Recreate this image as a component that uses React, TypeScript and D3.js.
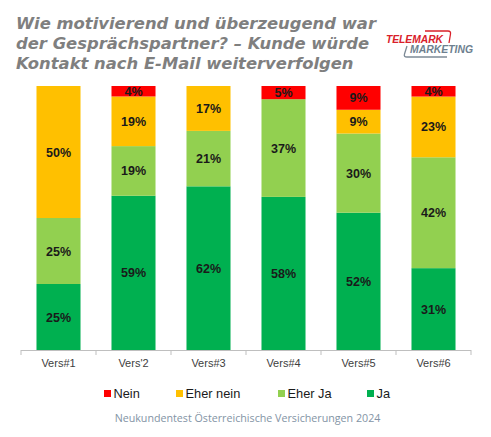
import React from "react";
import * as d3 from "d3";

const categories = ["Vers#1", "Vers'2", "Vers#3", "Vers#4", "Vers#5", "Vers#6"];
const seriesNames = ["Ja", "Eher Ja", "Eher nein", "Nein"];
const ja = [25, 59, 62, 58, 52, 31];
const eherJa = [25, 19, 21, 37, 30, 42];
const eherNein = [50, 19, 17, 0, 9, 23];
const nein = [0, 4, 0, 5, 9, 4];
const colors = ["#00B050", "#92D050", "#FFC000", "#FF0000"];
const legendOrder = ["Nein", "Eher nein", "Eher Ja", "Ja"];
const titleLines = [
  "Wie motivierend und überzeugend war",
  "der Gesprächspartner? – Kunde würde",
  "Kontakt nach E-Mail weiterverfolgen",
];
const footer = "Neukundentest Österreichische Versicherungen 2024";

export default function App() {
  const W = 491, H = 437;
  const x = d3.scaleBand<string>().domain(categories).range([21, 471]).paddingInner(0.413).paddingOuter(0.2065);
  const y = d3.scaleLinear().domain([0, 1]).range([350, 86]);
  const rows = categories.map((c, i) => {
    const vals = [ja[i], eherJa[i], eherNein[i], nein[i]];
    const total = d3.sum(vals);
    const r: any = { cat: c };
    seriesNames.forEach((s, k) => (r[s] = vals[k] / total));
    r.raw = vals;
    return r;
  });
  const stack = d3.stack<any>().keys(seriesNames);
  const series = stack(rows);
  const color = d3.scaleOrdinal<string, string>().domain(seriesNames).range(colors);
  const ticks = [...categories.map((c) => (x(c) as number) - (x.step() - x.bandwidth()) / 2), 471];
  const legendX = [104, 176, 278, 367];

  return (
    <div style={{ position: "absolute", left: 0, top: 0 }}>
      <svg width={W} height={H} style={{ display: "block", background: "#fff" }}>
        {titleLines.map((t, i) => (
          <text key={i} x={16} y={28.5 + i * 20} fontFamily="DejaVu Sans, Verdana, sans-serif" fontWeight="bold" fontStyle="italic" fontSize={16.4} fill="#7f7f7f">
            {t}
          </text>
        ))}
        {/* logo */}
        <g>
          <path d="M425,31 L448,31 Q451,31 450.5,34 L449,43" fill="none" stroke="#d9202a" strokeWidth={1.3} />
          <path d="M407,46 L404.5,54 Q403.5,57 407,57 L447,57" fill="none" stroke="#7d8a96" strokeWidth={1.3} />
          <text x={386} y={43} fontFamily="Liberation Sans, Arial, sans-serif" fontWeight="bold" fontStyle="italic" fontSize={10.5} fill="#d9202a" textLength={57} lengthAdjust="spacingAndGlyphs">TELEMARK</text>
          <text x={410} y={53} fontFamily="Liberation Sans, Arial, sans-serif" fontWeight="bold" fontStyle="italic" fontSize={10.5} fill="#6e7f8f" textLength={63} lengthAdjust="spacingAndGlyphs">MARKETING</text>
        </g>
        {series.map((s, k) => (
          <g key={s.key} fill={color(s.key)}>
            {s.map((d, i) => {
              const h = y(d[0]) - y(d[1]);
              if (h <= 0) return null;
              return <rect key={i} x={x(categories[i])} y={y(d[1])} width={x.bandwidth()} height={h} />;
            })}
          </g>
        ))}
        {series.map((s, k) => (
          <g key={"l" + s.key}>
            {s.map((d, i) => {
              const raw = rows[i].raw[k];
              if (!raw) return null;
              const cy = (y(d[0]) + y(d[1])) / 2;
              return (
                <text key={i} x={(x(categories[i]) as number) + x.bandwidth() / 2} y={cy + 4.5} textAnchor="middle" fontFamily="Liberation Sans, Arial, sans-serif" fontWeight="bold" fontSize={12.5} fill="#1a1a1a">
                  {raw}%
                </text>
              );
            })}
          </g>
        ))}
        {/* axis */}
        <line x1={21} x2={471} y1={350.5} y2={350.5} stroke="#bfbfbf" strokeWidth={1} />
        {ticks.map((t, i) => (
          <line key={i} x1={t} x2={t} y1={350} y2={355} stroke="#bfbfbf" strokeWidth={1} />
        ))}
        {categories.map((c) => (
          <text key={c} x={(x(c) as number) + x.bandwidth() / 2} y={367} textAnchor="middle" fontFamily="Liberation Sans, Arial, sans-serif" fontSize={11} fill="#404040">
            {c}
          </text>
        ))}
        {legendOrder.map((n, i) => (
          <g key={n}>
            <rect x={legendX[i]} y={390} width={7} height={7} fill={color(n)} />
            <text x={legendX[i] + 9.5} y={398} fontFamily="Liberation Sans, Arial, sans-serif" fontSize={12.8} fill="#1a1a1a">
              {n}
            </text>
          </g>
        ))}
        <text x={247.5} y={422} textAnchor="middle" fontFamily="Open Sans, sans-serif" fontSize={10.7} fill="#8394a5">
          {footer}
        </text>
      </svg>
    </div>
  );
}
